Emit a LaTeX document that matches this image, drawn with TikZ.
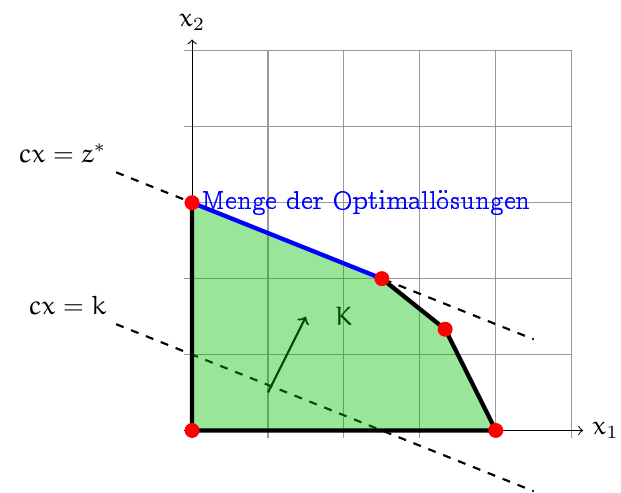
\documentclass[tikz,border=0pt]{standalone}
\usepackage[OT1]{fontenc}
\renewcommand{\rmdefault}{ccr}
\DeclareSymbolFont{letters}{U}{eur}{m}{n}
\usetikzlibrary{arrows.meta}
\tikzset{
  vertex/.style={circle,fill=red,inner sep=0pt,minimum size=5.6pt},
  level/.style={thick,dashed},
  region/.style={fill=green!75!black,fill opacity=0.4},
  rand/.style={line width=1.6pt}
}

\begin{document}
\begin{tikzpicture}[>=to]
  \useasboundingbox (-2.53,-0.82) rectangle (5.65,5.67);
  \draw[gray!80] (-0.1,-0.1) grid (5,5);
  \draw[->] (-0.1,0) -- (5.15,0) node[right] (x1) {$x_1$};
  \draw[->] (0,-0.1) -- (0,5.15) node[above] (x2) {$x_2$};
  % Niveaulinien
  \coordinate (z1) at (-1,3.4);
  \coordinate (z2) at (4.5,1.2);
  \coordinate (k1) at (-1,1.4);
  \coordinate (k2) at (4.5,-0.8);
  \draw[level] (z1) node[above left] (lz) {$cx=z^*$} -- (z2);
  \draw[level] (k1) node[above left] (lk) {$cx=k$} -- (k2);
  \coordinate (c0) at (1,0.5);
  \coordinate (c1) at (1.5,1.5);
  \draw[->,thick] (c0) -- (c1);
  \node (K) at (2,1.5) {$K$};
  % Ecken von K
  \coordinate (p0) at (0,0);
  \coordinate (p1) at (0,3);
  \coordinate (p2) at (2.5,2);
  \coordinate (p3) at (10/3,4/3);
  \coordinate (p4) at (4,0);
  \fill[region] (p0) -- (p1) -- (p2) -- (p3) -- (p4) -- cycle;
  \draw[rand] (p2) -- (p3) -- (p4) -- (p0) -- (p1);
  \draw[rand,blue] (p1) -- (p2);
  \node[right,blue] (opt) at (p1) {Menge der Optimall\"osungen};
  \foreach \i in {0,...,4}
    \node[vertex] (v\i) at (p\i) {};
\end{tikzpicture}
\end{document}
